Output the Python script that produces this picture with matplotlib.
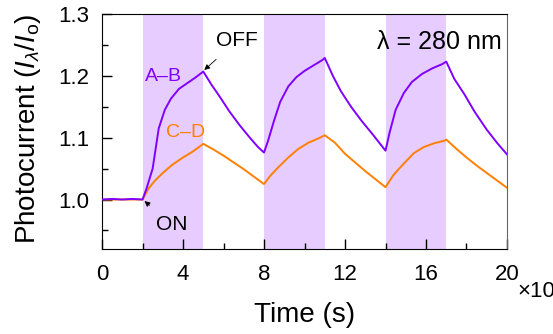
import matplotlib.pyplot as plt
from matplotlib.ticker import MultipleLocator

plt.rcParams['font.family'] = ['Liberation Sans', 'DejaVu Sans']
plt.rcParams['mathtext.fontset'] = 'custom'
plt.rcParams['mathtext.rm'] = 'Liberation Sans'
plt.rcParams['mathtext.it'] = 'Liberation Sans:italic'

# illumination windows (light on)
on_start = [2, 8, 14]
on_end = [5, 11, 17]

t_ab = [0, 0.5, 1, 1.5, 2, 2.2, 2.5, 2.8, 3.1, 3.4, 3.8, 4.2, 4.6, 5.0,
        5.4, 5.8, 6.3, 6.8, 7.3, 7.7, 8.0,
        8.2, 8.5, 8.8, 9.2, 9.6, 10.0, 10.5, 10.9, 11.0,
        11.4, 11.8, 12.3, 12.8, 13.4, 14.0,
        14.2, 14.5, 14.9, 15.3, 15.8, 16.3, 16.8, 17.0,
        17.4, 17.9, 18.4, 19.0, 19.5, 20.0]
ab = [1.0, 1.001, 1.0, 1.001, 1.0, 1.018, 1.05, 1.115, 1.145, 1.163, 1.179, 1.188, 1.197, 1.207,
      1.186, 1.167, 1.142, 1.120, 1.100, 1.085, 1.076,
      1.095, 1.128, 1.158, 1.183, 1.198, 1.208, 1.218, 1.226, 1.229,
      1.200, 1.175, 1.150, 1.128, 1.104, 1.079,
      1.108, 1.145, 1.172, 1.190, 1.203, 1.212, 1.219, 1.223,
      1.195, 1.170, 1.142, 1.113, 1.092, 1.073]

t_cd = [0, 0.5, 1, 1.5, 2, 2.3, 2.6, 3.0, 3.5, 4.0, 4.5, 5.0,
        5.5, 6.0, 6.5, 7.0, 7.5, 8.0,
        8.3, 8.7, 9.2, 9.7, 10.2, 10.7, 11.0,
        11.5, 12.0, 12.5, 13.0, 13.5, 14.0,
        14.4, 14.9, 15.4, 15.9, 16.4, 16.9, 17.0,
        17.5, 18.0, 18.5, 19.0, 19.5, 20.0]
cd = [1.0, 1.0, 1.0, 1.0, 1.0, 1.018, 1.030, 1.043, 1.057, 1.068, 1.078, 1.090,
      1.081, 1.071, 1.060, 1.049, 1.037, 1.025,
      1.038, 1.052, 1.068, 1.082, 1.092, 1.099, 1.104,
      1.092, 1.074, 1.060, 1.046, 1.033, 1.020,
      1.040, 1.058, 1.075, 1.085, 1.091, 1.095, 1.097,
      1.082, 1.068, 1.055, 1.043, 1.031, 1.019]

fig = plt.figure(figsize=(5.53, 3.34), dpi=100)
ax = fig.add_axes([0.1845, 0.2545, 0.7323, 0.7035])

for a, b in zip(on_start, on_end):
    ax.axvspan(a, b, color='#e6ccff', lw=0, zorder=0)

ax.plot(t_cd, cd, color='#ff8000', lw=1.4, zorder=2)
ax.plot(t_ab, ab, color='#8000ff', lw=1.4, zorder=3)

ax.set_xlim(0, 20)
ax.set_ylim(0.92, 1.3)
ax.xaxis.set_major_locator(MultipleLocator(4))
ax.xaxis.set_minor_locator(MultipleLocator(2))
ax.yaxis.set_major_locator(MultipleLocator(0.1))
ax.yaxis.set_minor_locator(MultipleLocator(0.05))
ax.tick_params(which='both', direction='in', top=False, right=False, labelsize=16)
ax.tick_params(axis='x', pad=11)
ax.tick_params(axis='y', pad=9)
ax.tick_params(which='major', length=7, width=1)
ax.tick_params(which='minor', length=4, width=1)
ax.set_yticks([1.0, 1.1, 1.2, 1.3])
ax.set_yticklabels(['1.0', '1.1', '1.2', '1.3'])
ax.spines['right'].set_color('#666666')

ax.set_xlabel('Time (s)', fontsize=20)
ax.set_ylabel(r'Photocurrent ($I_\lambda$/$I_\mathrm{o}$)', fontsize=20)
ax.xaxis.set_label_coords(0.5, -0.225)
ax.yaxis.set_label_coords(-0.145, 0.51)

ax.text(3.04, 1.199, 'A–B', color='#8000ff', fontsize=14, ha='center', va='center')
ax.text(4.15, 1.108, 'C–D', color='#ff8000', fontsize=14, ha='center', va='center')
ax.text(19.75, 1.254, 'λ = 280 nm', fontsize=18, ha='right', va='center')

ax.annotate('OFF', xy=(5.0, 1.208), xytext=(6.67, 1.257), fontsize=15,
            ha='center', va='center',
            arrowprops=dict(arrowstyle='-|>', color='black', lw=0.6,
                            shrinkA=7, shrinkB=1, mutation_scale=8))
ax.annotate('ON', xy=(2.05, 0.999), xytext=(3.46, 0.959), fontsize=15,
            ha='center', va='center',
            arrowprops=dict(arrowstyle='-|>', color='black', lw=0.6,
                            shrinkA=8, shrinkB=1, mutation_scale=8))

# scale factor text, runs off the right edge
ax.text(1.025, -0.18, '×10', transform=ax.transAxes, fontsize=16,
        ha='left', va='center', clip_on=False)

fig.savefig('out.png', dpi=100)
